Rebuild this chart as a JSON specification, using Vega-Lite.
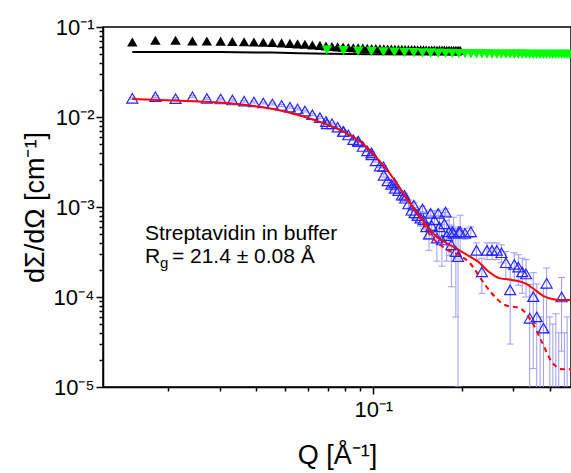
{
  "$schema": "https://vega.github.io/schema/vega-lite/v6.json",
  "width": 468,
  "height": 360,
  "autosize": {"type": "none"},
  "padding": {"left": 103, "top": 27, "right": 0, "bottom": 86},
  "background": "white",
  "config": {
    "font": "Liberation Sans",
    "view": {"stroke": "black", "strokeWidth": 1.5},
    "axis": {
      "grid": false,
      "domainColor": "black",
      "domainWidth": 1.5,
      "tickColor": "black",
      "tickWidth": 1.5,
      "labelColor": "black",
      "titleColor": "black",
      "labelFont": "Liberation Sans",
      "titleFont": "Liberation Sans",
      "titleFontWeight": "normal",
      "labelFontSize": 22,
      "titleFontSize": 27,
      "labelOverlap": false,
      "labelFlush": false
    }
  },
  "datasets": {
    "blackline": [
      {"Q": 0.0151, "I": 0.0528},
      {"Q": 0.03, "I": 0.0526},
      {"Q": 0.045, "I": 0.052},
      {"Q": 0.056, "I": 0.0512},
      {"Q": 0.07, "I": 0.0503},
      {"Q": 0.1, "I": 0.0498},
      {"Q": 0.15, "I": 0.0495},
      {"Q": 0.2, "I": 0.0493}
    ],
    "black": [
      {"Q": 0.0151, "I": 0.068}, {"Q": 0.0181, "I": 0.0712}, {"Q": 0.0212, "I": 0.0712}, {"Q": 0.0242, "I": 0.07},
      {"Q": 0.0271, "I": 0.0698}, {"Q": 0.0302, "I": 0.0696}, {"Q": 0.0331, "I": 0.069}, {"Q": 0.0363, "I": 0.0686},
      {"Q": 0.0392, "I": 0.0682}, {"Q": 0.0422, "I": 0.0678}, {"Q": 0.0453, "I": 0.0672}, {"Q": 0.0487, "I": 0.0666},
      {"Q": 0.052, "I": 0.0658}, {"Q": 0.0552, "I": 0.065}, {"Q": 0.0585, "I": 0.0642}, {"Q": 0.062, "I": 0.0632},
      {"Q": 0.0658, "I": 0.0625}, {"Q": 0.069, "I": 0.0615}, {"Q": 0.0723, "I": 0.0608}, {"Q": 0.0756, "I": 0.0602},
      {"Q": 0.0789, "I": 0.0597}, {"Q": 0.0822, "I": 0.0593}, {"Q": 0.0855, "I": 0.0589}, {"Q": 0.0888, "I": 0.0586},
      {"Q": 0.0921, "I": 0.0583}, {"Q": 0.0954, "I": 0.058}, {"Q": 0.0987, "I": 0.0578}, {"Q": 0.102, "I": 0.0576},
      {"Q": 0.1053, "I": 0.0574}, {"Q": 0.1086, "I": 0.0572}, {"Q": 0.1119, "I": 0.057}, {"Q": 0.1152, "I": 0.0568},
      {"Q": 0.1185, "I": 0.0567}, {"Q": 0.1218, "I": 0.0565}, {"Q": 0.1251, "I": 0.0564}, {"Q": 0.1284, "I": 0.0563},
      {"Q": 0.1317, "I": 0.0562}, {"Q": 0.135, "I": 0.0561}, {"Q": 0.1383, "I": 0.056}, {"Q": 0.1416, "I": 0.0559},
      {"Q": 0.1449, "I": 0.0558}, {"Q": 0.1482, "I": 0.0557}, {"Q": 0.1515, "I": 0.0556}, {"Q": 0.1548, "I": 0.0556},
      {"Q": 0.1581, "I": 0.0555}, {"Q": 0.1614, "I": 0.0555}, {"Q": 0.1647, "I": 0.0554}, {"Q": 0.168, "I": 0.0554},
      {"Q": 0.1713, "I": 0.0553}, {"Q": 0.1746, "I": 0.0553}, {"Q": 0.1779, "I": 0.0552}, {"Q": 0.1812, "I": 0.0552},
      {"Q": 0.1845, "I": 0.0551}, {"Q": 0.1878, "I": 0.0551}, {"Q": 0.1911, "I": 0.055}, {"Q": 0.1944, "I": 0.055},
      {"Q": 0.1977, "I": 0.055}
    ],
    "green": [
      {"Q": 0.0695, "I": 0.0555}, {"Q": 0.0792, "I": 0.0547}, {"Q": 0.0889, "I": 0.054}, {"Q": 0.0986, "I": 0.0535},
      {"Q": 0.1083, "I": 0.053}, {"Q": 0.118, "I": 0.0526}, {"Q": 0.1277, "I": 0.0522}, {"Q": 0.1374, "I": 0.0519},
      {"Q": 0.1471, "I": 0.0516}, {"Q": 0.1568, "I": 0.0514}, {"Q": 0.1665, "I": 0.0512}, {"Q": 0.1762, "I": 0.051},
      {"Q": 0.1859, "I": 0.0508}, {"Q": 0.1956, "I": 0.0507}, {"Q": 0.2053, "I": 0.0505}, {"Q": 0.215, "I": 0.0504},
      {"Q": 0.2247, "I": 0.0503}, {"Q": 0.2344, "I": 0.0502}, {"Q": 0.2441, "I": 0.0501}, {"Q": 0.2538, "I": 0.05},
      {"Q": 0.2635, "I": 0.05}, {"Q": 0.2732, "I": 0.0499}, {"Q": 0.2829, "I": 0.0499}, {"Q": 0.2926, "I": 0.0499},
      {"Q": 0.3023, "I": 0.0498}, {"Q": 0.312, "I": 0.0498}, {"Q": 0.3217, "I": 0.0498}, {"Q": 0.3314, "I": 0.0498},
      {"Q": 0.3411, "I": 0.0497}, {"Q": 0.3508, "I": 0.0497}, {"Q": 0.3605, "I": 0.0497}, {"Q": 0.3702, "I": 0.0497},
      {"Q": 0.3799, "I": 0.0497}, {"Q": 0.3896, "I": 0.0497}, {"Q": 0.3993, "I": 0.0497}, {"Q": 0.409, "I": 0.0497},
      {"Q": 0.4187, "I": 0.0497}, {"Q": 0.4284, "I": 0.0497}, {"Q": 0.4381, "I": 0.0497}, {"Q": 0.4478, "I": 0.0497},
      {"Q": 0.4575, "I": 0.0497}, {"Q": 0.4672, "I": 0.0497}
    ],
    "blue": [
      {"Q": 0.0151, "I": 0.01614, "lo": 0.01574, "hi": 0.01654},
      {"Q": 0.0181, "I": 0.01681, "lo": 0.01639, "hi": 0.01723},
      {"Q": 0.0212, "I": 0.01597, "lo": 0.01557, "hi": 0.01637},
      {"Q": 0.0242, "I": 0.01681, "lo": 0.01639, "hi": 0.01723},
      {"Q": 0.0271, "I": 0.01605, "lo": 0.01565, "hi": 0.01645},
      {"Q": 0.0302, "I": 0.01585, "lo": 0.01545, "hi": 0.01625},
      {"Q": 0.0331, "I": 0.01545, "lo": 0.01506, "hi": 0.01584},
      {"Q": 0.0363, "I": 0.01498, "lo": 0.01461, "hi": 0.01535},
      {"Q": 0.0392, "I": 0.01468, "lo": 0.01431, "hi": 0.01505},
      {"Q": 0.0422, "I": 0.01431, "lo": 0.01395, "hi": 0.01467},
      {"Q": 0.0453, "I": 0.01395, "lo": 0.0136, "hi": 0.0143},
      {"Q": 0.0487, "I": 0.01342, "lo": 0.01308, "hi": 0.01376},
      {"Q": 0.052, "I": 0.01285, "lo": 0.01253, "hi": 0.01317},
      {"Q": 0.0552, "I": 0.01227, "lo": 0.01196, "hi": 0.01258},
      {"Q": 0.0585, "I": 0.01166, "lo": 0.01137, "hi": 0.01195},
      {"Q": 0.062, "I": 0.0106, "lo": 0.01034, "hi": 0.01087},
      {"Q": 0.0658, "I": 0.00985, "lo": 0.0096, "hi": 0.0101},
      {"Q": 0.069, "I": 0.0089, "lo": 0.0087, "hi": 0.0091},
      {"Q": 0.0723, "I": 0.0084, "lo": 0.0082, "hi": 0.0086},
      {"Q": 0.0756, "I": 0.0077, "lo": 0.0075, "hi": 0.0079},
      {"Q": 0.0789, "I": 0.0069, "lo": 0.00672, "hi": 0.00708},
      {"Q": 0.0822, "I": 0.00631, "lo": 0.00615, "hi": 0.00647},
      {"Q": 0.0855, "I": 0.0056, "lo": 0.00545, "hi": 0.00575},
      {"Q": 0.0888, "I": 0.00533, "lo": 0.00519, "hi": 0.00547},
      {"Q": 0.0921, "I": 0.0047, "lo": 0.00457, "hi": 0.00483},
      {"Q": 0.0954, "I": 0.0042, "lo": 0.00408, "hi": 0.00432},
      {"Q": 0.0987, "I": 0.0038, "lo": 0.00369, "hi": 0.00391},
      {"Q": 0.102, "I": 0.00325, "lo": 0.00315, "hi": 0.00335},
      {"Q": 0.1053, "I": 0.00285, "lo": 0.00275, "hi": 0.00295},
      {"Q": 0.1086, "I": 0.00225, "lo": 0.00215, "hi": 0.00235},
      {"Q": 0.1119, "I": 0.00195, "lo": 0.00185, "hi": 0.00205},
      {"Q": 0.1152, "I": 0.00178, "lo": 0.00168, "hi": 0.00188},
      {"Q": 0.1185, "I": 0.00161, "lo": 0.00151, "hi": 0.00171},
      {"Q": 0.1218, "I": 0.00152, "lo": 0.00142, "hi": 0.00162},
      {"Q": 0.1251, "I": 0.00135, "lo": 0.00125, "hi": 0.00145},
      {"Q": 0.1284, "I": 0.00125, "lo": 0.00115, "hi": 0.00135},
      {"Q": 0.1317, "I": 0.00108, "lo": 0.00097, "hi": 0.00119},
      {"Q": 0.135, "I": 0.00092, "lo": 0.0008, "hi": 0.00104},
      {"Q": 0.1383, "I": 0.00086, "lo": 0.00074, "hi": 0.00098},
      {"Q": 0.1416, "I": 0.0008, "lo": 0.00067, "hi": 0.00093},
      {"Q": 0.1449, "I": 0.00075, "lo": 0.00061, "hi": 0.00089},
      {"Q": 0.1482, "I": 0.00072, "lo": 0.00057, "hi": 0.00087},
      {"Q": 0.1515, "I": 0.0006, "lo": 0.00044, "hi": 0.00076},
      {"Q": 0.1548, "I": 0.0005, "lo": 0.00033, "hi": 0.00067},
      {"Q": 0.1581, "I": 0.00062, "lo": 0.00044, "hi": 0.0008},
      {"Q": 0.1614, "I": 0.00072, "lo": 0.00053, "hi": 0.00091},
      {"Q": 0.1647, "I": 0.00045, "lo": 0.00025, "hi": 0.00065},
      {"Q": 0.168, "I": 0.0006, "lo": 0.0004, "hi": 0.0008},
      {"Q": 0.1713, "I": 0.00043, "lo": 0.00022, "hi": 0.00064},
      {"Q": 0.1746, "I": 0.00065, "lo": 0.00043, "hi": 0.00087},
      {"Q": 0.1779, "I": 0.00048, "lo": 0.00025, "hi": 0.00071},
      {"Q": 0.1812, "I": 0.00053, "lo": 0.00029, "hi": 0.00077},
      {"Q": 0.1845, "I": 0.00038, "lo": 0.00013, "hi": 0.00063},
      {"Q": 0.1878, "I": 0.00051, "lo": 0.00025, "hi": 0.00077},
      {"Q": 0.1911, "I": 0.00032, "lo": 0.00006, "hi": 0.00058},
      {"Q": 0.1944, "I": 0.00028, "lo": 0.00001, "hi": 0.00055},
      {"Q": 0.1977, "I": 0.00053, "lo": 0.00025, "hi": 0.00081},
      {"Q": 0.0695, "I": 0.0084, "lo": 0.0082, "hi": 0.0086},
      {"Q": 0.0792, "I": 0.0069, "lo": 0.00675, "hi": 0.00705},
      {"Q": 0.0889, "I": 0.0054, "lo": 0.00528, "hi": 0.00552},
      {"Q": 0.0986, "I": 0.004, "lo": 0.0039, "hi": 0.0041},
      {"Q": 0.1083, "I": 0.0028, "lo": 0.00272, "hi": 0.00288},
      {"Q": 0.118, "I": 0.00185, "lo": 0.00178, "hi": 0.00192},
      {"Q": 0.1277, "I": 0.00135, "lo": 0.00128, "hi": 0.00142},
      {"Q": 0.1374, "I": 0.00105, "lo": 0.00098, "hi": 0.00112},
      {"Q": 0.1471, "I": 0.00095, "lo": 0.00088, "hi": 0.00102},
      {"Q": 0.1568, "I": 0.00085, "lo": 0.00078, "hi": 0.00092},
      {"Q": 0.1665, "I": 0.00085, "lo": 0.00078, "hi": 0.00092},
      {"Q": 0.1762, "I": 0.00088, "lo": 0.00081, "hi": 0.00095},
      {"Q": 0.1859, "I": 0.00053, "lo": 0.00046, "hi": 0.0006},
      {"Q": 0.1956, "I": 0.00053, "lo": 0.00046, "hi": 0.0006},
      {"Q": 0.2053, "I": 0.00051, "lo": 0.00044, "hi": 0.00058},
      {"Q": 0.215, "I": 0.00053, "lo": 0.00046, "hi": 0.0006},
      {"Q": 0.2247, "I": 0.00033, "lo": 0.00026, "hi": 0.0004},
      {"Q": 0.2344, "I": 0.00019, "lo": 0.00011, "hi": 0.00027},
      {"Q": 0.2441, "I": 0.00033, "lo": 0.00026, "hi": 0.0004},
      {"Q": 0.2538, "I": 0.00033, "lo": 0.00026, "hi": 0.0004},
      {"Q": 0.2635, "I": 0.00033, "lo": 0.00026, "hi": 0.0004},
      {"Q": 0.2732, "I": 0.00031, "lo": 0.00024, "hi": 0.00038},
      {"Q": 0.2829, "I": 0.00024, "lo": 0.00016, "hi": 0.00032},
      {"Q": 0.2926, "I": 0.00012, "lo": 0.00003, "hi": 0.00021},
      {"Q": 0.3023, "I": 0.00023, "lo": 0.00015, "hi": 0.00031},
      {"Q": 0.312, "I": 0.000215, "lo": 0.000135, "hi": 0.000295},
      {"Q": 0.3217, "I": 0.00019, "lo": 0.00011, "hi": 0.00027},
      {"Q": 0.3314, "I": 0.00018, "lo": 0.0001, "hi": 0.00026},
      {"Q": 0.3411, "I": 0.000058, "lo": 0.000001, "hi": 0.000138},
      {"Q": 0.3508, "I": 0.000101, "lo": 0.000016, "hi": 0.000186},
      {"Q": 0.3605, "I": 0.00006, "lo": 0.000001, "hi": 0.00014},
      {"Q": 0.3702, "I": 0.000005, "lo": 0.000001, "hi": 0.00006},
      {"Q": 0.3799, "I": 0.000045, "lo": 0.000001, "hi": 0.000125},
      {"Q": 0.3896, "I": 0.000142, "lo": 0.00004, "hi": 0.00021},
      {"Q": 0.3993, "I": 0.000005, "lo": 0.000001, "hi": 0.00006},
      {"Q": 0.409, "I": 0.000005, "lo": 0.000001, "hi": 0.00005},
      {"Q": 0.4187, "I": 0.000005, "lo": 0.000001, "hi": 0.000065},
      {"Q": 0.4284, "I": 0.000005, "lo": 0.000001, "hi": 0.00004},
      {"Q": 0.4381, "I": 0.0001, "lo": 0.000025, "hi": 0.000165},
      {"Q": 0.4478, "I": 0.000005, "lo": 0.000001, "hi": 0.00004},
      {"Q": 0.4575, "I": 0.000005, "lo": 0.000001, "hi": 0.00006}
    ],
    "fit": [
      {"Q": 0.0151, "I": 0.01585}, {"Q": 0.022, "I": 0.01517}, {"Q": 0.0325, "I": 0.0142}, {"Q": 0.0422, "I": 0.01282},
      {"Q": 0.052, "I": 0.01116}, {"Q": 0.0641, "I": 0.0091}, {"Q": 0.077, "I": 0.00717}, {"Q": 0.0925, "I": 0.005},
      {"Q": 0.0975, "I": 0.0042}, {"Q": 0.1054, "I": 0.0032}, {"Q": 0.1111, "I": 0.00262}, {"Q": 0.1265, "I": 0.00142},
      {"Q": 0.1442, "I": 0.00078}, {"Q": 0.1644, "I": 0.000468}, {"Q": 0.1874, "I": 0.000362}, {"Q": 0.2136, "I": 0.000281},
      {"Q": 0.2276, "I": 0.000247}, {"Q": 0.2434, "I": 0.0002}, {"Q": 0.2702, "I": 0.000161}, {"Q": 0.2999, "I": 0.000154},
      {"Q": 0.3333, "I": 0.000139}, {"Q": 0.3556, "I": 0.00012}, {"Q": 0.3795, "I": 0.000103}, {"Q": 0.406, "I": 0.000095},
      {"Q": 0.4325, "I": 0.0000924}, {"Q": 0.4716, "I": 0.0000926}
    ],
    "dashed": [
      {"Q": 0.1265, "I": 0.00142}, {"Q": 0.1442, "I": 0.00076}, {"Q": 0.154, "I": 0.00052}, {"Q": 0.1755, "I": 0.000348},
      {"Q": 0.2001, "I": 0.00028}, {"Q": 0.2136, "I": 0.000237}, {"Q": 0.2341, "I": 0.0001545}, {"Q": 0.2532, "I": 0.00011},
      {"Q": 0.281, "I": 0.0000815}, {"Q": 0.3161, "I": 0.0000749}, {"Q": 0.3465, "I": 0.0000532}, {"Q": 0.3748, "I": 0.0000319},
      {"Q": 0.4053, "I": 0.0000191}, {"Q": 0.4441, "I": 0.0000157}, {"Q": 0.4716, "I": 0.0000157}
    ]
  },
  "layer": [
    {
      "data": {"name": "blackline"},
      "mark": {"type": "line", "color": "black", "strokeWidth": 2, "clip": true},
      "encoding": {
        "x": {
          "field": "Q", "type": "quantitative",
          "scale": {"type": "log", "domain": [0.012, 0.4716], "nice": false},
          "axis": {
            "title": "Q [Å⁻¹]",
            "values": [0.02, 0.03, 0.04, 0.05, 0.06, 0.07, 0.08, 0.09, 0.1, 0.2, 0.3, 0.4],
            "labelExpr": "datum.value == 0.1 ? '10⁻¹' : ''",
            "tickSize": {"condition": {"test": "datum.value == 0.1", "value": 7}, "value": 4},
            "labelPadding": 5,
            "titlePadding": 22
          }
        },
        "y": {
          "field": "I", "type": "quantitative",
          "scale": {"type": "log", "domain": [0.00001, 0.1], "nice": false},
          "axis": {
            "title": "dΣ/dΩ [cm⁻¹]",
            "values": [0.00001, 0.00002, 0.00003, 0.00004, 0.00005, 0.00006, 0.00007, 0.00008, 0.00009,
                       0.0001, 0.0002, 0.0003, 0.0004, 0.0005, 0.0006, 0.0007, 0.0008, 0.0009,
                       0.001, 0.002, 0.003, 0.004, 0.005, 0.006, 0.007, 0.008, 0.009,
                       0.01, 0.02, 0.03, 0.04, 0.05, 0.06, 0.07, 0.08, 0.09, 0.1],
            "labelExpr": "datum.value == 0.1 ? '10⁻¹' : datum.value == 0.01 ? '10⁻²' : datum.value == 0.001 ? '10⁻³' : datum.value == 0.0001 ? '10⁻⁴' : datum.value == 0.00001 ? '10⁻⁵' : ''",
            "tickSize": {"condition": {"test": "datum.value == 0.1 || datum.value == 0.01 || datum.value == 0.001 || datum.value == 0.0001 || datum.value == 0.00001", "value": 7}, "value": 4},
            "labelPadding": 2,
            "titlePadding": 4
          }
        }
      }
    },
    {
      "data": {"name": "black"},
      "mark": {"type": "point", "shape": "triangle-up", "filled": true, "color": "black", "size": 110, "opacity": 1, "clip": true},
      "encoding": {
        "x": {"field": "Q", "type": "quantitative", "scale": {"type": "log", "domain": [0.012, 0.4716], "nice": false}},
        "y": {"field": "I", "type": "quantitative", "scale": {"type": "log", "domain": [0.00001, 0.1], "nice": false}}
      }
    },
    {
      "data": {"name": "green"},
      "mark": {"type": "point", "shape": "triangle-down", "filled": true, "color": "#00ff00", "size": 115, "opacity": 1, "clip": true},
      "encoding": {
        "x": {"field": "Q", "type": "quantitative", "scale": {"type": "log", "domain": [0.012, 0.4716], "nice": false}},
        "y": {"field": "I", "type": "quantitative", "scale": {"type": "log", "domain": [0.00001, 0.1], "nice": false}}
      }
    },
    {
      "data": {"name": "blue"},
      "mark": {"type": "rule", "color": "#9a9aff", "strokeWidth": 1, "clip": true},
      "encoding": {
        "x": {"field": "Q", "type": "quantitative", "scale": {"type": "log", "domain": [0.012, 0.4716], "nice": false}},
        "y": {"field": "lo", "type": "quantitative", "scale": {"type": "log", "domain": [0.00001, 0.1], "nice": false}},
        "y2": {"field": "hi"}
      }
    },
    {
      "data": {"name": "blue"},
      "mark": {"type": "tick", "orient": "horizontal", "color": "#9a9aff", "size": 7, "thickness": 1, "opacity": 1, "clip": true},
      "encoding": {
        "x": {"field": "Q", "type": "quantitative", "scale": {"type": "log", "domain": [0.012, 0.4716], "nice": false}},
        "y": {"field": "hi", "type": "quantitative", "scale": {"type": "log", "domain": [0.00001, 0.1], "nice": false}}
      }
    },
    {
      "data": {"name": "blue"},
      "mark": {"type": "tick", "orient": "horizontal", "color": "#9a9aff", "size": 7, "thickness": 1, "opacity": 1, "clip": true},
      "encoding": {
        "x": {"field": "Q", "type": "quantitative", "scale": {"type": "log", "domain": [0.012, 0.4716], "nice": false}},
        "y": {"field": "lo", "type": "quantitative", "scale": {"type": "log", "domain": [0.00001, 0.1], "nice": false}}
      }
    },
    {
      "data": {"name": "blue"},
      "mark": {"type": "point", "shape": "triangle-up", "filled": false, "stroke": "#2424ff", "strokeWidth": 1.2, "size": 120, "opacity": 1, "clip": true},
      "encoding": {
        "x": {"field": "Q", "type": "quantitative", "scale": {"type": "log", "domain": [0.012, 0.4716], "nice": false}},
        "y": {"field": "I", "type": "quantitative", "scale": {"type": "log", "domain": [0.00001, 0.1], "nice": false}}
      }
    },
    {
      "data": {"name": "fit"},
      "mark": {"type": "line", "color": "#ff0000", "strokeWidth": 2, "interpolate": "monotone", "clip": true},
      "encoding": {
        "x": {"field": "Q", "type": "quantitative", "scale": {"type": "log", "domain": [0.012, 0.4716], "nice": false}},
        "y": {"field": "I", "type": "quantitative", "scale": {"type": "log", "domain": [0.00001, 0.1], "nice": false}}
      }
    },
    {
      "data": {"name": "dashed"},
      "mark": {"type": "line", "color": "#ff0000", "strokeWidth": 2, "strokeDash": [5, 4], "interpolate": "monotone", "clip": true},
      "encoding": {
        "x": {"field": "Q", "type": "quantitative", "scale": {"type": "log", "domain": [0.012, 0.4716], "nice": false}},
        "y": {"field": "I", "type": "quantitative", "scale": {"type": "log", "domain": [0.00001, 0.1], "nice": false}}
      }
    },
    {
      "data": {"values": [{"Q": 0.01667, "I": 0.00043, "label": "Streptavidin in buffer"}, {"Q": 0.01667, "I": 0.000236, "label": "R"}]},
      "mark": {"type": "text", "align": "left", "baseline": "alphabetic", "fontSize": 21, "font": "Liberation Sans", "color": "black"},
      "encoding": {
        "x": {"field": "Q", "type": "quantitative", "scale": {"type": "log", "domain": [0.012, 0.4716], "nice": false}},
        "y": {"field": "I", "type": "quantitative", "scale": {"type": "log", "domain": [0.00001, 0.1], "nice": false}},
        "text": {"field": "label"}
      }
    },
    {
      "data": {"values": [{"Q": 0.01667, "I": 0.000236, "label": "g"}]},
      "mark": {"type": "text", "align": "left", "baseline": "alphabetic", "fontSize": 15, "dx": 15, "dy": 5, "font": "Liberation Sans", "color": "black"},
      "encoding": {
        "x": {"field": "Q", "type": "quantitative", "scale": {"type": "log", "domain": [0.012, 0.4716], "nice": false}},
        "y": {"field": "I", "type": "quantitative", "scale": {"type": "log", "domain": [0.00001, 0.1], "nice": false}},
        "text": {"field": "label"}
      }
    },
    {
      "data": {"values": [{"Q": 0.01667, "I": 0.000236, "label": "= 21.4 ± 0.08 Å"}]},
      "mark": {"type": "text", "align": "left", "baseline": "alphabetic", "fontSize": 21, "dx": 27, "font": "Liberation Sans", "color": "black"},
      "encoding": {
        "x": {"field": "Q", "type": "quantitative", "scale": {"type": "log", "domain": [0.012, 0.4716], "nice": false}},
        "y": {"field": "I", "type": "quantitative", "scale": {"type": "log", "domain": [0.00001, 0.1], "nice": false}},
        "text": {"field": "label"}
      }
    }
  ]
}
